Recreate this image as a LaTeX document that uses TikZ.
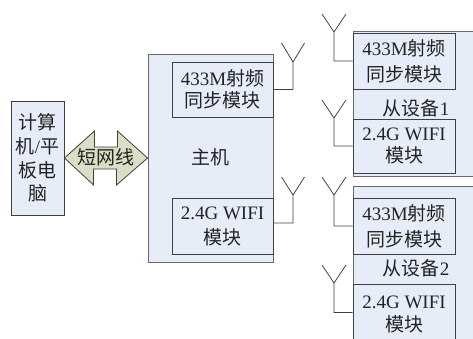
\documentclass[tikz,border=0pt]{standalone}
\usepackage{fontspec}
\setmainfont{Liberation Serif}
\newfontfamily\cjk{Noto Sans CJK SC}
\newcommand\zh[1]{{\cjk #1}}
\definecolor{boxfill}{RGB}{231,237,248}
\definecolor{arrfill}{RGB}{216,223,196}
\definecolor{edge}{RGB}{64,64,64}
\definecolor{outeredge}{RGB}{105,105,105}
\definecolor{ink}{RGB}{35,35,35}
\tikzset{
  txt/.style={font=\fontsize{19}{23}\selectfont, text=ink, align=center, inner sep=0pt},
  outerbox/.style={draw=outeredge, fill=boxfill, line width=0.9pt, inner sep=0pt},
  module/.style={draw=edge, fill=boxfill, line width=0.9pt, inner sep=0pt, txt},
  ant/.style={draw=edge, line width=0.8pt},
  arrowshape/.style={draw=edge, fill=arrfill, line width=0.8pt, line join=miter},
}
\begin{document}
\begin{tikzpicture}[x=1pt,y=-1pt]
\useasboundingbox (0,0) rectangle (473,338);
\clip (0,0) rectangle (473,338);

% computer / tablet
\node[outerbox, draw=edge, minimum width=53pt, minimum height=114pt, txt, font=\fontsize{19}{23.7}\selectfont] (pc) at (37.5,158)
  {\zh{计算}\\\zh{机}/\zh{平}\\\zh{板电}\\\zh{脑}};

% host
\node[outerbox, minimum width=125pt, minimum height=208pt] (host) at (210.5,158) {};
\node[txt] (hostlabel) at (210,157) {\zh{主机}};
\node[module, minimum width=101pt, minimum height=55pt, font=\fontsize{19}{22}\selectfont] (h433) at (222.5,89.5)
  {433M\zh{射频}\\\zh{同步模块}};
\node[module, minimum width=101pt, minimum height=56pt, font=\fontsize{19}{25}\selectfont] (hwifi) at (222.5,226)
  {2.4G WIFI\\\zh{模块}};

% cable arrow
\draw[arrowshape] (pc.east) -- ++(30,-27) -- ++(0,16) -- ++(23,0) -- ++(0,-16) -- (host.west)
  -- ++(-31,27) -- ++(0,-16) -- ++(-23,0) -- ++(0,16) -- cycle;
\node[txt] (cable) at (106,157) {\zh{短网线}};

% host antennas
\coordinate (ha1) at (293,62);
\coordinate (ha2) at (293,195);
\draw[ant] (h433.east) -| (ha1) -- ++(-11.5,-19) (ha1) -- ++(11.5,-19);
\draw[ant] ([yshift=3pt]hwifi.east) -| (ha2) -- ++(-11.5,-18) (ha2) -- ++(11.5,-18);

% slave 1
\node[outerbox, minimum width=187pt, minimum height=145pt] (s1) at (446.5,103.5) {};
\node[module, minimum width=102pt, minimum height=56pt, font=\fontsize{19}{26}\selectfont] (s1a) at (404,61)
  {433M\zh{射频}\\\zh{同步模块}};
\node[txt] (s1label) at (416,108) {\zh{从设备}1};
\node[module, minimum width=102pt, minimum height=54pt, font=\fontsize{19}{22}\selectfont] (s1b) at (404,146)
  {2.4G WIFI\\\zh{模块}};

% slave 2
\node[outerbox, minimum width=187pt, minimum height=184pt] (s2) at (446.5,278) {};
\node[module, minimum width=102pt, minimum height=56pt, font=\fontsize{19}{26}\selectfont] (s2a) at (404,226)
  {433M\zh{射频}\\\zh{同步模块}};
\node[txt] (s2label) at (416,268) {\zh{从设备}2};
\node[module, minimum width=102pt, minimum height=61pt, font=\fontsize{19}{23}\selectfont] (s2b) at (404,314.5)
  {2.4G WIFI\\\zh{模块}};

% slave antennas
\coordinate (sa1) at (334,32);
\coordinate (sa2) at (334,118);
\coordinate (sa3) at (334,195);
\coordinate (sa4) at (334,283);
\draw[ant] (s1a.west) -| (sa1) -- ++(-12,-18) (sa1) -- ++(12,-18);
\draw[ant] (s1b.west) -| (sa2) -- ++(-12,-18) (sa2) -- ++(12,-18);
\draw[ant] (s2a.west) -| (sa3) -- ++(-12,-18) (sa3) -- ++(12,-18);
\draw[ant] ([yshift=2pt]s2b.west) -| (sa4) -- ++(-12,-18) (sa4) -- ++(12,-18);
\end{tikzpicture}
\end{document}
